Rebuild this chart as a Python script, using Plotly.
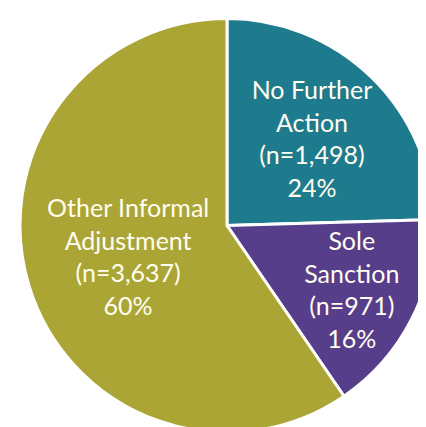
import plotly.graph_objects as go

categories = ["No Further Action", "Sole Sanction", "Other Informal Adjustment"]
label_lines = ["No Further<br>Action", "Sole<br>Sanction", "Other Informal<br>Adjustment"]
counts = [1498, 971, 3637]
pct_labels = ["24%", "16%", "60%"]
colors = ["#1E7B8E", "#573E8A", "#ABA536"]

texts = [f"{l}<br>(n={c:,})<br>{p}" for l, c, p in zip(label_lines, counts, pct_labels)]

W, H = 426, 427
fig = go.Figure(go.Pie(
    labels=categories,
    values=counts,
    text=texts,
    textinfo="text",
    textposition="inside",
    insidetextorientation="horizontal",
    sort=False,
    direction="clockwise",
    rotation=0,
    marker=dict(colors=colors, line=dict(color="white", width=3)),
    insidetextfont=dict(family="Lato", size=25, color="#FFFDF0"),
    hoverinfo="label+value+percent",
    domain=dict(x=[12 / W, 1], y=[0, 1 - 8 / H]),
))
fig.update_layout(
    width=W, height=H,
    margin=dict(l=0, r=0, t=0, b=0),
    showlegend=False,
    paper_bgcolor="white",
    uniformtext=dict(minsize=25, mode="show"),
)
fig.write_html("out.html")
